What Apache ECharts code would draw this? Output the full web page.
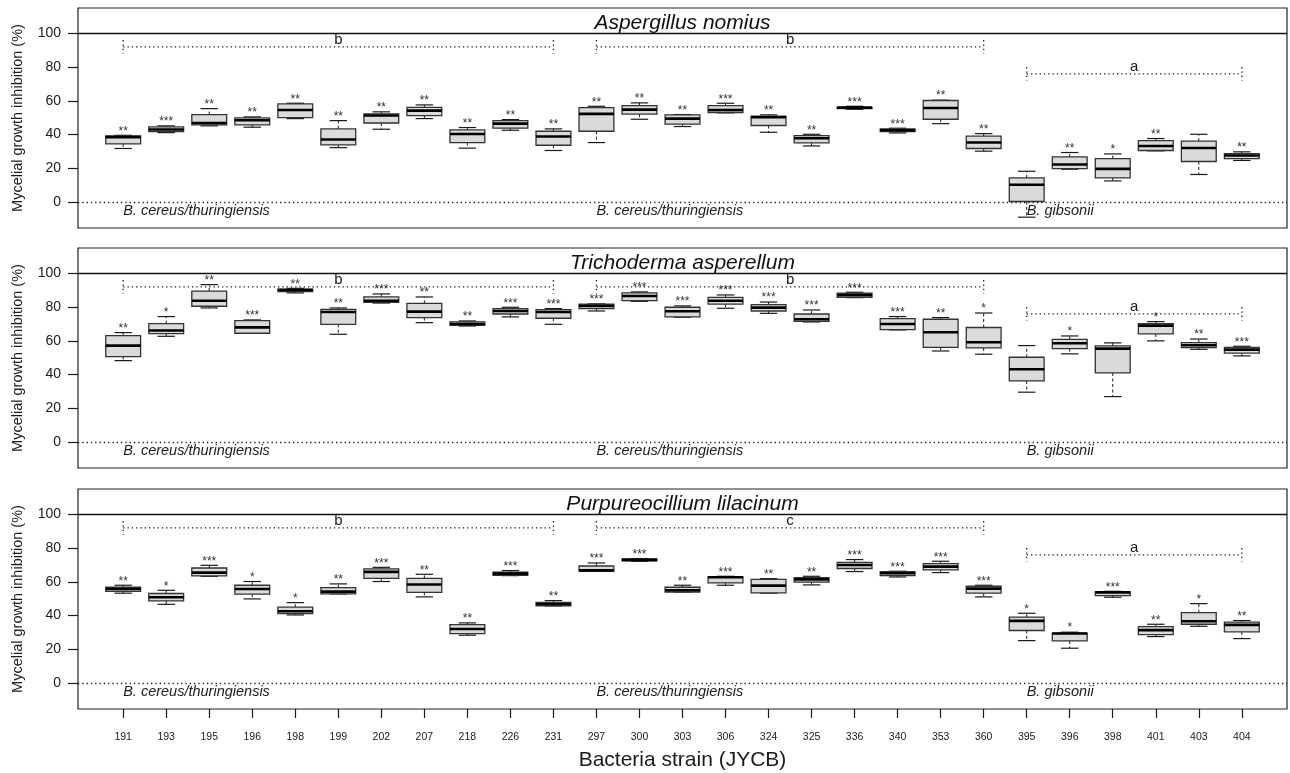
<!DOCTYPE html>
<html><head><meta charset="utf-8">
<script src="https://cdn.jsdelivr.net/npm/echarts@6/dist/echarts.min.js"></script>
<style>html,body{margin:0;padding:0;background:#fff}#c{width:1290px;height:773px}</style>
</head><body><div id="c"></div>
<script>
// ---------- data ----------
const strains = ['191','193','195','196','198','199','202','207','218','226','231','297','300','303','306','324','325','336','340','353','360','395','396','398','401','403','404'];
const yTicks = [0, 20, 40, 60, 80, 100];
const panelTitles = ['Aspergillus nomius', 'Trichoderma asperellum', 'Purpureocillium lilacinum'];

// [min, Q1, median, Q3, max] per strain
const nomiusStats = [
  [31.8,34.5,38.5,39.3,39.6],[41.2,41.8,43.0,44.6,45.2],[45.2,45.8,46.9,51.9,55.4],[44.4,45.8,48.5,49.9,50.5],
  [49.5,50.1,54.6,58.2,58.6],[32.3,33.9,37.1,43.4,48.3],[43.2,46.9,51.3,52.3,53.5],[49.5,51.3,54.2,56.2,57.6],
  [32.0,35.3,40.4,42.8,44.2],[42.6,43.8,46.5,48.3,48.9],[30.6,33.7,38.9,42.0,43.4],[35.3,42.0,52.3,56.0,56.8],
  [49.1,52.1,54.8,57.2,58.8],[44.8,46.2,49.5,51.7,51.9],[52.9,53.1,54.6,57.2,58.6],[41.4,45.4,50.3,50.9,51.7],
  [33.3,35.1,37.9,39.4,40.2],[55.0,55.4,56.0,56.2,56.8],[41.0,41.8,42.6,43.4,43.8],[46.5,49.1,55.8,60.2,60.4],
  [30.2,31.8,35.3,39.1,40.6],[-8.9,0.4,10.3,14.4,18.3],[19.5,19.9,22.3,26.8,29.4],[12.6,14.4,19.7,25.8,28.6],
  [30.4,30.6,33.3,36.5,37.7],[16.4,24.1,32.1,36.1,40.2],[24.7,25.8,27.6,28.8,29.8]
];
const asperellumStats = [
  [48.3,50.7,57.2,63.1,64.9],[62.7,64.3,66.1,70.2,74.4],[79.5,80.5,83.8,89.5,93.3],[64.5,64.5,68.0,72.0,72.4],
  [88.4,89.2,90.1,90.7,91.1],[63.9,69.8,77.1,78.7,79.5],[82.4,82.8,83.8,86.0,87.8],[70.8,73.8,77.3,82.2,86.0],
  [68.8,69.2,70.0,71.2,71.8],[74.2,75.9,77.7,79.1,79.9],[69.8,73.4,77.1,78.5,79.1],[77.7,79.1,80.7,81.7,81.9],
  [83.4,83.8,86.6,88.4,89.0],[74.0,74.2,77.5,79.9,80.7],[79.3,81.7,83.8,85.8,87.2],[76.3,77.7,79.7,81.5,83.0],
  [71.2,71.6,72.8,75.9,78.3],[85.6,85.8,87.0,88.2,88.8],[66.5,66.7,70.0,73.2,74.4],[54.0,56.2,65.1,72.8,73.8],
  [52.1,55.8,59.2,67.9,76.5],[29.6,36.3,43.2,50.3,57.2],[52.3,55.4,58.6,60.9,62.9],[27.0,41.0,55.4,57.0,58.8],
  [60.0,64.1,69.0,70.2,71.4],[55.0,56.0,57.4,59.0,61.1],[51.1,52.7,54.8,56.2,56.8]
];
const lilacinumStats = [
  [53.3,54.4,55.8,56.8,58.0],[46.7,48.7,50.9,53.1,55.0],[63.3,63.5,65.5,68.2,69.8],[49.9,52.7,55.8,58.0,60.2],
  [40.4,41.2,42.6,45.0,47.7],[52.9,52.9,54.2,56.6,58.8],[60.2,62.1,65.9,67.7,68.6],[51.1,53.8,58.4,62.1,64.5],
  [28.4,29.4,32.1,34.7,35.7],[63.7,63.9,64.9,65.7,66.7],[45.8,45.8,46.7,47.9,48.9],[66.3,66.3,66.9,69.4,71.2],
  [72.2,72.4,73.0,73.6,73.8],[54.0,54.0,55.0,56.8,58.0],[58.0,59.4,62.7,63.1,63.3],[53.3,53.5,57.8,61.5,61.9],
  [58.2,59.8,61.5,62.5,63.3],[66.1,67.9,70.0,71.6,73.2],[62.9,63.7,65.1,66.1,66.3],[65.5,67.1,69.0,70.8,72.2],
  [51.1,53.3,56.0,57.4,58.0],[25.2,31.2,36.9,39.1,41.4],[20.7,25.0,29.4,29.6,30.2],[50.9,51.9,53.8,54.2,54.4],
  [27.6,28.8,31.4,33.5,34.9],[33.7,34.9,36.7,41.8,47.1],[26.4,30.4,34.5,36.1,37.1]
];

const nomiusStars = ['**','***','**','**','**','**','**','**','**','**','**','**','**','**','***','**','**','***','***','**','**','','**','*','**','','**'];
const asperellumStars = ['**','*','**','***','**','**','***','**','**','***','***','***','***','***','***','***','***','***','***','**','*','','*','','*','**','***'];
const lilacinumStars = ['**','*','***','*','*','**','***','**','**','***','**','***','***','**','***','**','**','***','***','***','***','*','*','***','**','*','**'];

const groupNames = ['B. cereus/thuringiensis', 'B. cereus/thuringiensis', 'B. gibsonii'];
const groupStart = [1, 12, 22];
const groupEnd = [11, 21, 27];
const groupLevel = [92, 92, 76];
const nomiusLetters = ['b', 'b', 'a'];
const asperellumLetters = ['b', 'b', 'a'];
const lilacinumLetters = ['b', 'c', 'a'];

// ---------- layout / style ----------
const FONT = '"Liberation Sans", Arial, Helvetica, sans-serif';
const INK = '#1a1a1a';
const gridTops = [8, 248, 489];
const gridH = 220;
const gridLeft = 78, gridRight = 3;
const xMin = -0.05, xMax = 28.05, yMin = -15.3, yMax = 115;

const panels = [
  {title: panelTitles[0], stats: nomiusStats, stars: nomiusStars, letters: nomiusLetters},
  {title: panelTitles[1], stats: asperellumStats, stars: asperellumStars, letters: asperellumLetters},
  {title: panelTitles[2], stats: lilacinumStats, stars: lilacinumStars, letters: lilacinumLetters}
];

function boxRender(stars) {
  return function (params, api) {
    const x = api.value(0);
    const pMin = api.coord([x, api.value(1)]);
    const pQ1 = api.coord([x, api.value(2)]);
    const pMd = api.coord([x, api.value(3)]);
    const pQ3 = api.coord([x, api.value(4)]);
    const pMax = api.coord([x, api.value(5)]);
    const bw = api.size([0.81, 0])[0];
    const cw = bw / 2;
    const cx = pMd[0];
    const children = [
      {type: 'line', shape: {x1: cx, y1: pQ3[1], x2: cx, y2: pMax[1]}, style: {stroke: INK, lineWidth: 1, lineDash: [3, 2.5]}},
      {type: 'line', shape: {x1: cx, y1: pQ1[1], x2: cx, y2: pMin[1]}, style: {stroke: INK, lineWidth: 1, lineDash: [3, 2.5]}},
      {type: 'line', shape: {x1: cx - cw / 2, y1: pMax[1], x2: cx + cw / 2, y2: pMax[1]}, style: {stroke: INK, lineWidth: 1.2}},
      {type: 'line', shape: {x1: cx - cw / 2, y1: pMin[1], x2: cx + cw / 2, y2: pMin[1]}, style: {stroke: INK, lineWidth: 1.2}},
      {type: 'rect', shape: {x: cx - bw / 2, y: pQ3[1], width: bw, height: Math.max(pQ1[1] - pQ3[1], 0.5)},
        style: {fill: '#dadada', stroke: '#333', lineWidth: 1.3}},
      {type: 'line', shape: {x1: cx - bw / 2, y1: pMd[1], x2: cx + bw / 2, y2: pMd[1]}, style: {stroke: '#000', lineWidth: 2.6}}
    ];
    const s = stars[params.dataIndex];
    if (s) {
      children.push({type: 'text', style: {text: s, x: cx, y: pMax[1] - 4, align: 'center', verticalAlign: 'middle',
        font: '12px ' + FONT, fill: '#333'}});
    }
    return {type: 'group', children: children};
  };
}

function groupRender(letters) {
  return function (params, api) {
    const i = params.dataIndex;
    const s = api.value(0), e = api.value(1), lv = api.value(2);
    const pS = api.coord([s, lv]), pE = api.coord([e, lv]);
    const top = api.coord([s, lv + 4])[1], bot = api.coord([s, lv - 4])[1];
    const zeroY = api.coord([s, 0])[1];
    const dot = {stroke: INK, lineWidth: 1.3, lineDash: [1.3, 3]};
    return {type: 'group', children: [
      {type: 'line', shape: {x1: pS[0], y1: pS[1], x2: pE[0], y2: pE[1]}, style: dot},
      {type: 'line', shape: {x1: pS[0], y1: top, x2: pS[0], y2: bot}, style: dot},
      {type: 'line', shape: {x1: pE[0], y1: top, x2: pE[0], y2: bot}, style: dot},
      {type: 'text', style: {text: letters[i], x: (pS[0] + pE[0]) / 2, y: pS[1] + 1, align: 'center', verticalAlign: 'bottom',
        font: '15px ' + FONT, fill: INK}},
      {type: 'text', style: {text: groupNames[i], x: pS[0], y: zeroY + 9, align: 'left', verticalAlign: 'middle',
        font: 'italic 14.5px ' + FONT, fill: INK}}
    ]};
  };
}

const grids = [], xAxes = [], yAxes = [], series = [], graphics = [];
panels.forEach((p, k) => {
  grids.push({left: gridLeft, right: gridRight, top: gridTops[k], height: gridH, show: true,
    borderColor: '#222', borderWidth: 1.2, backgroundColor: 'transparent'});
  const last = k === panels.length - 1;
  xAxes.push({
    gridIndex: k, type: 'value', min: xMin, max: xMax, show: last, position: 'bottom',
    axisLine: {show: false, onZero: false}, splitLine: {show: false},
    axisTick: {show: last, customValues: strains.map((s, i) => i + 1), length: 9, lineStyle: {color: INK, width: 1.2}},
    axisLabel: {show: last, customValues: strains.map((s, i) => i + 1), formatter: v => strains[Math.round(v) - 1] || '',
      fontSize: 10.5, color: INK, fontFamily: FONT, margin: 23},
    name: last ? 'Bacteria strain (JYCB)' : '', nameLocation: 'middle', nameGap: 41,
    nameTextStyle: {fontSize: 21, color: INK, fontFamily: FONT}
  });
  yAxes.push({
    gridIndex: k, type: 'value', min: yMin, max: yMax, position: 'left',
    axisLine: {show: false, onZero: false}, splitLine: {show: false},
    axisTick: {show: true, customValues: yTicks, length: 10, lineStyle: {color: INK, width: 1.2}},
    axisLabel: {customValues: yTicks, fontSize: 14, color: INK, fontFamily: FONT, margin: 17},
    name: 'Mycelial growth inhibition (%)', nameLocation: 'middle', nameGap: 53,
    nameTextStyle: {fontSize: 14.5, color: INK, fontFamily: FONT}
  });
  series.push({
    type: 'custom', xAxisIndex: k, yAxisIndex: k, renderItem: boxRender(p.stars),
    encode: {x: 0, y: [1, 2, 3, 4, 5]},
    data: p.stats.map((r, i) => [i + 1].concat(r)),
    silent: true, animation: false,
    markLine: {silent: true, symbol: ['none', 'none'], label: {show: false}, animation: false,
      data: [
        {yAxis: 0, lineStyle: {type: [1.3, 3], color: INK, width: 1.3}},
        {yAxis: 100, lineStyle: {type: 'solid', color: '#111', width: 1.3}}
      ]}
  });
  series.push({
    type: 'custom', xAxisIndex: k, yAxisIndex: k, renderItem: groupRender(p.letters),
    encode: {x: [0, 1], y: 2},
    data: groupStart.map((s, i) => [s, groupEnd[i], groupLevel[i]]),
    silent: true, animation: false
  });
  graphics.push({type: 'text', x: gridLeft + (1290 - gridLeft - gridRight) / 2, y: gridTops[k] + 15,
    style: {text: p.title, font: 'italic 21px ' + FONT, fill: '#111', align: 'center', verticalAlign: 'middle'}});
});

const chart = echarts.init(document.getElementById('c'), null, {renderer: 'canvas'});
chart.setOption({
  animation: false,
  backgroundColor: '#fff',
  grid: grids, xAxis: xAxes, yAxis: yAxes, series: series, graphic: graphics
});
</script></body></html>
